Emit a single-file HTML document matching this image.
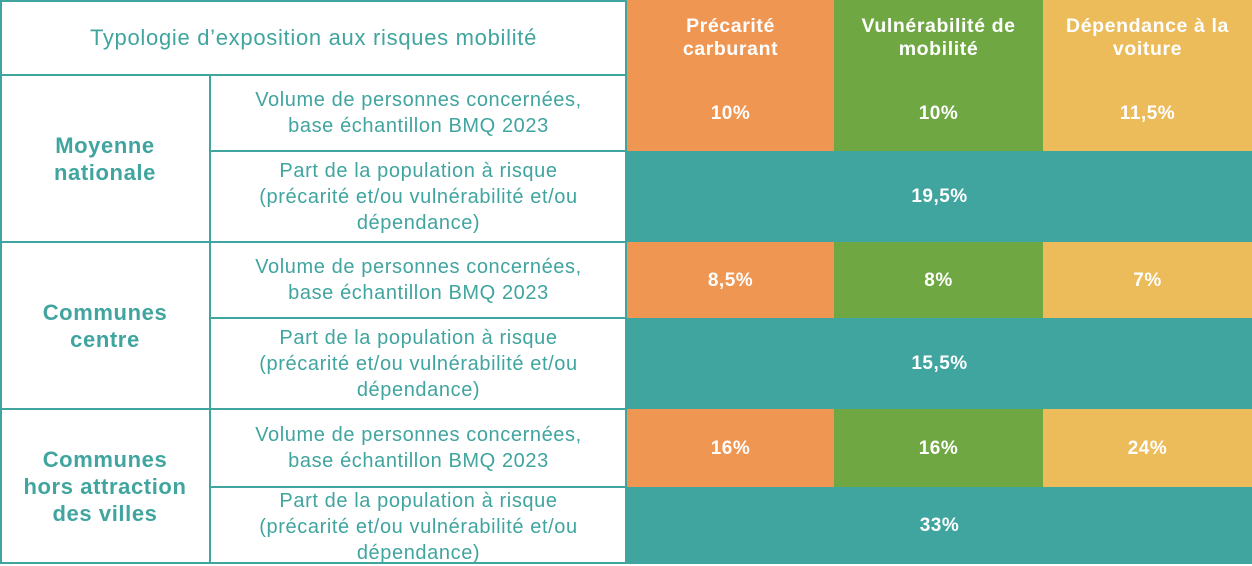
<!DOCTYPE html>
<html><head><style>
body{margin:0;width:1252px;height:564px;background:#fff;position:relative;overflow:hidden;font-family:"Liberation Sans",sans-serif}
div{position:absolute;box-sizing:border-box;display:flex;align-items:center;justify-content:center;text-align:center;white-space:nowrap}
.l{color:#40a49f;font-size:20px;letter-spacing:0.6px;line-height:26px}
.b{color:#fff;font-weight:bold;font-size:19px;letter-spacing:0.5px;line-height:23px}
.c{font-size:19.5px;letter-spacing:0.6px}
.h{color:#40a49f;font-weight:bold;font-size:22px;letter-spacing:0.6px;line-height:27px}
.o{background:#ef9653}.g{background:#6fa843}.y{background:#ecbb5a}.t{background:#40a49f}
.hl{background:#40a49f;height:2px}.vl{background:#40a49f;width:2px}
</style></head><body>
<div class="l" style="left:0;top:0;width:627px;height:75px;font-size:22px;letter-spacing:0.7px">Typologie d’exposition aux risques mobilité</div>
<div class="b c o" style="left:627px;top:0;width:207px;height:75px">Précarité<br>carburant</div>
<div class="b c g" style="left:834px;top:0;width:209px;height:75px">Vulnérabilité de<br>mobilité</div>
<div class="b c y" style="left:1043px;top:0;width:209px;height:75px">Dépendance à la<br>voiture</div>

<div class="h" style="left:0;top:75px;width:210px;height:167px">Moyenne<br>nationale</div>
<div class="h" style="left:0;top:242px;width:210px;height:167px">Communes<br>centre</div>
<div class="h" style="left:0;top:409px;width:210px;height:155px">Communes<br>hors attraction<br>des villes</div>

<div class="l" style="left:210px;top:75px;width:417px;height:76px">Volume de personnes concernées,<br>base échantillon BMQ 2023</div>
<div class="l" style="left:210px;top:151px;width:417px;height:91px">Part de la population à risque<br>(précarité et/ou vulnérabilité et/ou<br>dépendance)</div>
<div class="l" style="left:210px;top:242px;width:417px;height:76px">Volume de personnes concernées,<br>base échantillon BMQ 2023</div>
<div class="l" style="left:210px;top:318px;width:417px;height:91px">Part de la population à risque<br>(précarité et/ou vulnérabilité et/ou<br>dépendance)</div>
<div class="l" style="left:210px;top:409px;width:417px;height:78px">Volume de personnes concernées,<br>base échantillon BMQ 2023</div>
<div class="l" style="left:210px;top:487px;width:417px;height:77px;padding-top:2px">Part de la population à risque<br>(précarité et/ou vulnérabilité et/ou<br>dépendance)</div>

<div class="b o" style="left:627px;top:75px;width:207px;height:76px">10%</div>
<div class="b g" style="left:834px;top:75px;width:209px;height:76px">10%</div>
<div class="b y" style="left:1043px;top:75px;width:209px;height:76px">11,5%</div>
<div class="b t" style="left:627px;top:151px;width:625px;height:91px">19,5%</div>
<div class="b o" style="left:627px;top:242px;width:207px;height:76px">8,5%</div>
<div class="b g" style="left:834px;top:242px;width:209px;height:76px">8%</div>
<div class="b y" style="left:1043px;top:242px;width:209px;height:76px">7%</div>
<div class="b t" style="left:627px;top:318px;width:625px;height:91px">15,5%</div>
<div class="b o" style="left:627px;top:409px;width:207px;height:78px">16%</div>
<div class="b g" style="left:834px;top:409px;width:209px;height:78px">16%</div>
<div class="b y" style="left:1043px;top:409px;width:209px;height:78px">24%</div>
<div class="b t" style="left:627px;top:487px;width:625px;height:77px">33%</div>

<div class="hl" style="left:0;top:74px;width:627px"></div>
<div class="hl" style="left:0;top:241px;width:627px"></div>
<div class="hl" style="left:0;top:408px;width:627px"></div>
<div class="hl" style="left:0;top:562px;width:627px"></div>
<div class="hl" style="left:0;top:0;width:627px"></div>
<div class="hl" style="left:209px;top:150px;width:418px"></div>
<div class="hl" style="left:209px;top:317px;width:418px"></div>
<div class="hl" style="left:209px;top:486px;width:418px"></div>
<div class="vl" style="left:0;top:0;height:564px"></div>
<div class="vl" style="left:209px;top:74px;height:490px"></div>
<div class="vl" style="left:625px;top:0;height:564px"></div>
</body></html>
